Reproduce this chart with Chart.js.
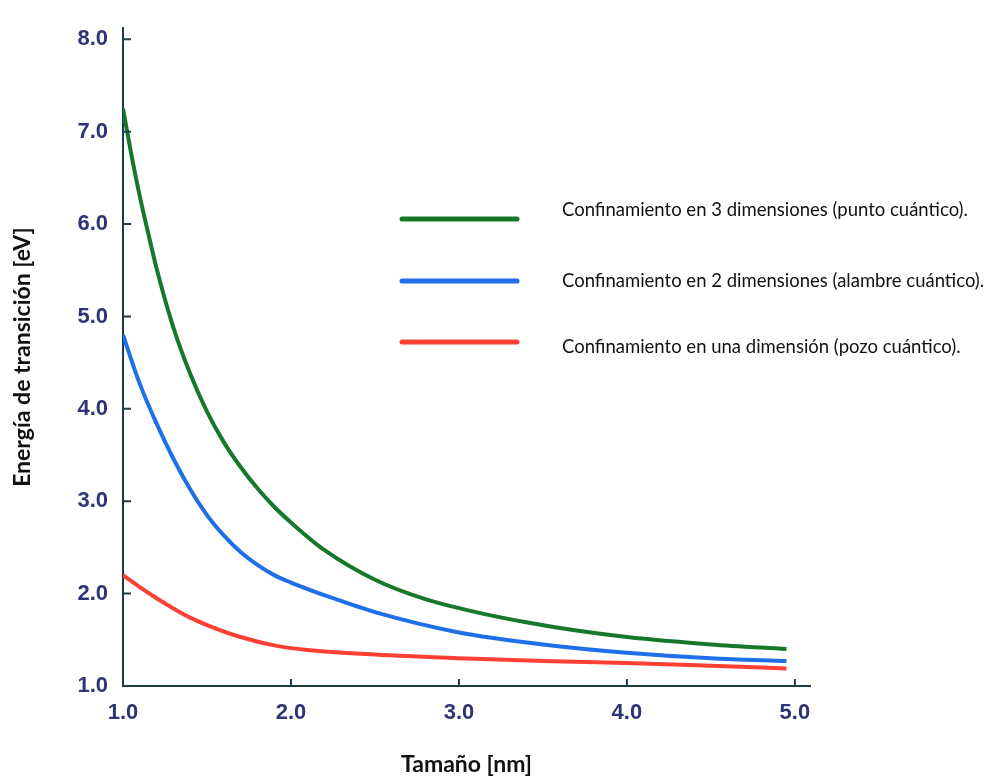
<!DOCTYPE html>
<html>
<head>
<meta charset="utf-8">
<title>Energía de transición vs tamaño</title>
<script src="https://cdn.jsdelivr.net/npm/chart.js@4.4.1/dist/chart.umd.min.js"></script>
<style>
  html, body { margin: 0; padding: 0; background: #ffffff; }
  #wrap { width: 991px; height: 780px; }
</style>
</head>
<body>
<div id="wrap"><canvas id="energyChart" width="991" height="780"></canvas></div>
<script>
// Tamaño del nanocristal [nm] y energía [eV] para cada tipo de confinamiento
const sizes3D = [1.0, 1.05, 1.1, 1.15, 1.2, 1.3, 1.4, 1.5, 1.6, 1.7, 1.8, 1.9, 2.0, 2.2, 2.5, 2.8, 3.1, 3.4, 3.7, 4.0, 4.5, 4.95];
const energy3D = [7.25, 6.75, 6.3, 5.9, 5.52, 4.88, 4.38, 3.97, 3.64, 3.37, 3.14, 2.94, 2.77, 2.47, 2.15, 1.94, 1.8, 1.69, 1.6, 1.53, 1.45, 1.4];

const sizes2D = [1.0, 1.1, 1.2, 1.3, 1.4, 1.5, 1.6, 1.7, 1.8, 1.9, 2.0, 2.25, 2.5, 3.0, 3.5, 4.0, 4.5, 4.95];
const energy2D = [4.8, 4.27, 3.84, 3.46, 3.13, 2.85, 2.63, 2.45, 2.31, 2.2, 2.12, 1.95, 1.8, 1.58, 1.45, 1.36, 1.3, 1.27];

const sizes1D = [1.0, 1.1, 1.2, 1.3, 1.4, 1.5, 1.7, 1.9, 2.1, 2.5, 3.0, 3.5, 4.0, 4.5, 4.95];
const energy1D = [2.2, 2.07, 1.95, 1.84, 1.74, 1.66, 1.53, 1.44, 1.39, 1.34, 1.3, 1.27, 1.25, 1.22, 1.19];

const seriesLabels = [
    'Confinamiento en 3 dimensiones (punto cuántico).',
    'Confinamiento en 2 dimensiones (alambre cuántico).',
    'Confinamiento en una dimensión (pozo cuántico).'
];
const seriesColors = ['#17782a', '#1f6fe8', '#ff4032'];

const xTicks = [1, 2, 3, 4, 5];
const yTicks = [1, 2, 3, 4, 5, 6, 7, 8];

const AXIS_COLOR = '#1d3b4a';
const TICK_COLOR = '#2e3477';

function toPoints(xs, ys) {
    return xs.map((x, i) => ({ x: x, y: ys[i] }));
}

// small tick marks pointing into the plot
const innerTicks = {
    id: 'innerTicks',
    afterDraw(chart) {
        const { ctx, chartArea, scales } = chart;
        ctx.save();
        ctx.strokeStyle = AXIS_COLOR;
        ctx.lineWidth = 2;
        ctx.beginPath();
        xTicks.forEach(v => {
            const px = scales.x.getPixelForValue(v);
            ctx.moveTo(px, chartArea.bottom);
            ctx.lineTo(px, chartArea.bottom - 7);
        });
        yTicks.forEach(v => {
            const py = scales.y.getPixelForValue(v);
            ctx.moveTo(chartArea.left, py);
            ctx.lineTo(chartArea.left + 8, py);
        });
        ctx.stroke();
        ctx.restore();
    }
};

// legend drawn inside the plot area, line sample then text
const innerLegend = {
    id: 'innerLegend',
    afterDraw(chart) {
        const ctx = chart.ctx;
        const rows = [
            { lineY: 219, textY: 210 },
            { lineY: 281, textY: 281 },
            { lineY: 342, textY: 347 }
        ];
        ctx.save();
        chart.data.datasets.forEach((ds, i) => {
            const r = rows[i];
            ctx.strokeStyle = ds.borderColor;
            ctx.lineWidth = 5;
            ctx.lineCap = 'round';
            ctx.beginPath();
            ctx.moveTo(402, r.lineY);
            ctx.lineTo(517, r.lineY);
            ctx.stroke();

            ctx.fillStyle = '#111111';
            ctx.font = '18.5px Lato';
            ctx.textAlign = 'left';
            ctx.textBaseline = 'middle';
            ctx.fillText(ds.label, 562, r.textY, 426);
        });
        ctx.restore();
    }
};

const ctx = document.getElementById('energyChart');
new Chart(ctx, {
    type: 'line',
    data: {
        datasets: [
            { label: seriesLabels[0], data: toPoints(sizes3D, energy3D), borderColor: seriesColors[0] },
            { label: seriesLabels[1], data: toPoints(sizes2D, energy2D), borderColor: seriesColors[1] },
            { label: seriesLabels[2], data: toPoints(sizes1D, energy1D), borderColor: seriesColors[2] }
        ].map(ds => Object.assign(ds, {
            borderWidth: 4,
            pointRadius: 0,
            fill: false,
            cubicInterpolationMode: 'monotone'
        }))
    },
    options: {
        responsive: false,
        animation: false,
        layout: { padding: { top: 10, right: 181, bottom: 0, left: 0 } },
        plugins: {
            legend: { display: false },
            tooltip: { enabled: false }
        },
        scales: {
            x: {
                type: 'linear',
                min: 1,
                max: 5.09,
                afterBuildTicks: scale => { scale.ticks = xTicks.map(v => ({ value: v })); },
                afterFit: scale => { scale.height = 94; },
                grid: { display: false, drawTicks: false },
                border: { display: true, color: AXIS_COLOR, width: 2 },
                ticks: {
                    padding: 14,
                    color: TICK_COLOR,
                    font: { family: '"Liberation Sans", Arial', size: 22, weight: 'bold' },
                    callback: v => Number(v).toFixed(1)
                },
                title: {
                    display: true,
                    text: 'Tamaño [nm]',
                    color: '#111111',
                    font: { family: 'Lato', size: 23, weight: 'bold' },
                    padding: { top: 0, bottom: 2 }
                }
            },
            y: {
                min: 1,
                max: 8.12,
                afterBuildTicks: scale => { scale.ticks = yTicks.map(v => ({ value: v })); },
                afterFit: scale => { scale.width = 123; },
                grid: { display: false, drawTicks: false },
                border: { display: true, color: AXIS_COLOR, width: 2 },
                ticks: {
                    padding: 15,
                    color: TICK_COLOR,
                    font: { family: '"Liberation Sans", Arial', size: 22, weight: 'bold' },
                    callback: v => Number(v).toFixed(1)
                },
                title: {
                    display: true,
                    text: 'Energía de transición [eV]',
                    color: '#111111',
                    font: { family: 'Lato', size: 23, weight: 'bold' },
                    padding: { top: 9, bottom: 0 }
                }
            }
        }
    },
    plugins: [innerTicks, innerLegend]
});
</script>
</body>
</html>
